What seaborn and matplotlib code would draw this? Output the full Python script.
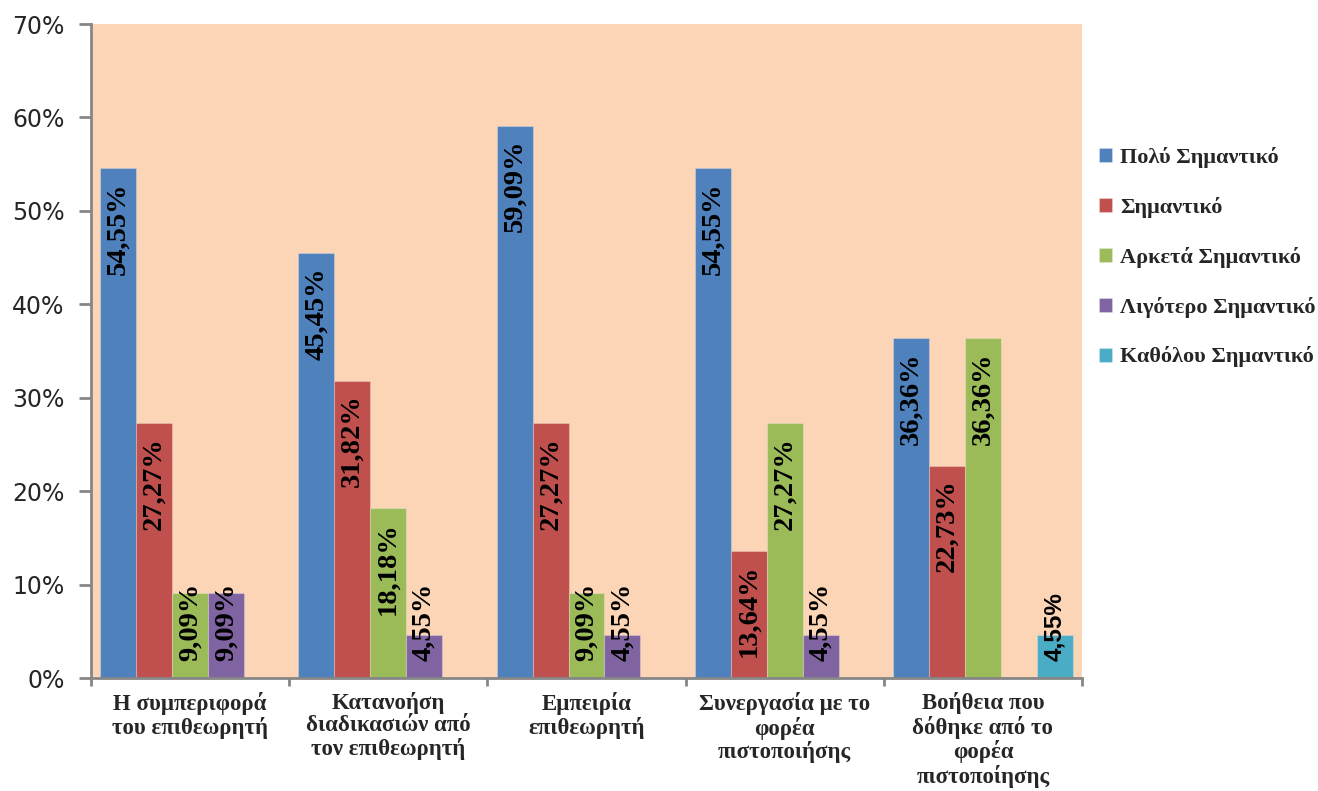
import matplotlib
matplotlib.use("Agg")
import matplotlib.pyplot as plt
import seaborn as sns
import pandas as pd
from matplotlib.ticker import FixedLocator, PercentFormatter

# Survey results (% of respondents)
categories = [
    "Η συμπεριφορά\nτου επιθεωρητή",
    "Κατανοήση\nδιαδικασιών από\nτον επιθεωρητή",
    "Εμπειρία\nεπιθεωρητή",
    "Συνεργασία με το\nφορέα\nπιστοποιήσης",
    "Βοήθεια που\nδόθηκε από το\nφορέα\nπιστοποίησης",
]
series_names = [
    "Πολύ Σημαντικό",
    "Σημαντικό",
    "Αρκετά Σημαντικό",
    "Λιγότερο Σημαντικό",
    "Καθόλου Σημαντικό",
]
very_important = [54.55, 45.45, 59.09, 54.55, 36.36]
important = [27.27, 31.82, 27.27, 13.64, 22.73]
fairly_important = [9.09, 18.18, 9.09, 27.27, 36.36]
less_important = [9.09, 4.55, 4.55, 4.55, 0.0]
not_important = [0.0, 0.0, 0.0, 0.0, 4.55]
y_ticks = [0, 10, 20, 30, 40, 50, 60, 70]

series_values = [very_important, important, fairly_important,
                 less_important, not_important]
colors = ["#4F81BD", "#C0504D", "#9BBB59", "#8064A2", "#4BACC6"]

rows = []
for name, vals in zip(series_names, series_values):
    for cat, v in zip(categories, vals):
        rows.append({"cat": cat, "series": name, "value": v})
df = pd.DataFrame(rows)

sns.set_style("white")
plt.rcParams["font.family"] = ["DejaVu Sans"]

fig = plt.figure(figsize=(13.18, 7.91), dpi=100)
W, H = 1318, 791
ax = fig.add_axes([91 / W, (H - 678) / H, (1082 - 91) / W, (678 - 24) / H])
ax.set_facecolor("#FBD5B5")

sns.barplot(data=df, x="cat", y="value", hue="series", hue_order=series_names,
            order=categories, palette=colors, saturation=1, width=0.908,
            errorbar=None, ax=ax, legend=True,
            edgecolor=(1, 1, 1, 0.25), linewidth=0.8)

ax.set_xlim(-0.5, 4.5)
ax.set_ylim(0, 70)
ax.set_xlabel("")
ax.set_ylabel("")

# Spines
for s in ["top", "right"]:
    ax.spines[s].set_visible(False)
for s in ["left", "bottom"]:
    ax.spines[s].set_color("#868686")
    ax.spines[s].set_linewidth(2)

# Y axis
ax.yaxis.set_major_locator(FixedLocator(y_ticks))
ax.yaxis.set_major_formatter(PercentFormatter(decimals=0))
ax.tick_params(axis="y", which="major", direction="out", length=9, width=2,
               color="#868686", pad=10, labelsize=17, left=True)
for lbl in ax.get_yticklabels():
    lbl.set_fontfamily("DejaVu Sans")

# X axis: labels at group centres, ticks at group boundaries
ax.set_xticks(range(len(categories)))
ax.set_xticklabels(categories, fontfamily="Liberation Serif",
                   fontweight="bold", fontsize=16.5, linespacing=1.1)
ax.set_xticks([i - 0.5 for i in range(len(categories) + 1)], minor=True)
ax.tick_params(axis="x", which="major", length=0, pad=10)
ax.tick_params(axis="x", which="minor", direction="out", length=6, width=2,
               color="#868686", bottom=True)

# Value labels, rotated inside the bars
for ci, container in enumerate(ax.containers):
    vals = series_values[ci]
    for bar, v in zip(container, vals):
        if v <= 0:
            continue
        text = f"{v:.2f}".replace(".", ",") + "%"
        x = bar.get_x() + bar.get_width() / 2
        if ci == 4:
            fam, wt, fs = "Liberation Sans", "bold", 17.5
        else:
            fam, wt, fs = "Liberation Serif", "bold", 20.5
        if v < 12:
            ax.text(x, 1.8, text, rotation=90, ha="center", va="bottom",
                    fontfamily=fam, fontweight=wt, fontsize=fs, color="black")
        else:
            ax.text(x, v - 1.5, text, rotation=90, ha="center", va="top",
                    fontfamily=fam, fontweight=wt, fontsize=fs, color="black")

# Legend outside the plot area
handles, labels = ax.get_legend_handles_labels()
ax.get_legend().remove()
fig.legend(handles, labels, loc="upper left",
           bbox_to_anchor=(1090 / W, 1 - 138 / H), frameon=False,
           prop={"family": "Liberation Serif", "weight": "bold", "size": 16},
           handlelength=0.6, handleheight=0.6, handletextpad=0.35,
           labelspacing=1.3, borderaxespad=0)

fig.savefig("out.png", dpi=100, facecolor="white")
